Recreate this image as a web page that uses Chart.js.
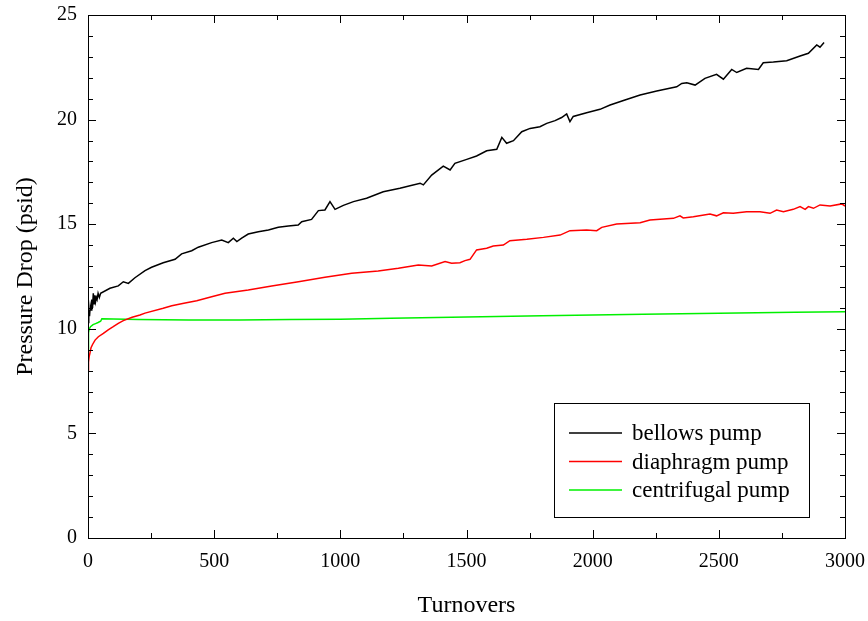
<!DOCTYPE html>
<html>
<head>
<meta charset="utf-8">
<script src="https://cdn.jsdelivr.net/npm/chart.js@4.4.0/dist/chart.umd.min.js"></script>
<style>
  html, body { margin: 0; padding: 0; background: #fff; }
  #wrap { width: 868px; height: 621px; }
</style>
</head>
<body>
<div id="wrap"><canvas id="c" width="868" height="621"></canvas></div>
<script>
// ---- data ----
const seriesLabels = ['bellows pump', 'diaphragm pump', 'centrifugal pump'];
const seriesColors = ['#000000', '#ff0000', '#00f000'];

const bellowsX = [0, 3, 6, 9, 12, 15, 18, 21, 24, 27, 30, 33, 36, 40, 45, 50, 87, 120, 140, 160, 186, 226, 252, 298, 345, 371, 411, 437, 490, 530, 556, 576, 590, 609, 635, 675, 715, 754, 794, 833, 847, 886, 913, 939, 959, 979, 1012, 1052, 1104, 1170, 1236, 1316, 1329, 1362, 1408, 1435, 1454, 1501, 1540, 1580, 1620, 1640, 1659, 1686, 1719, 1752, 1791, 1818, 1851, 1877, 1897, 1910, 1923, 1976, 2029, 2069, 2128, 2188, 2254, 2333, 2353, 2373, 2406, 2445, 2491, 2518, 2551, 2571, 2610, 2657, 2676, 2716, 2769, 2822, 2855, 2888, 2901, 2917];
const bellowsY = [10.3, 10.9, 10.6, 11.1, 10.9, 11.4, 11.0, 11.7, 11.2, 11.6, 11.3, 11.5, 11.4, 11.7, 11.5, 11.7, 11.94, 12.05, 12.25, 12.17, 12.44, 12.78, 12.94, 13.16, 13.32, 13.58, 13.73, 13.9, 14.12, 14.24, 14.12, 14.33, 14.17, 14.33, 14.53, 14.64, 14.72, 14.85, 14.91, 14.96, 15.12, 15.23, 15.65, 15.68, 16.08, 15.71, 15.9, 16.08, 16.24, 16.55, 16.72, 16.96, 16.88, 17.35, 17.78, 17.59, 17.91, 18.1, 18.26, 18.51, 18.58, 19.15, 18.87, 18.99, 19.42, 19.58, 19.66, 19.82, 19.95, 20.1, 20.27, 19.9, 20.15, 20.33, 20.49, 20.7, 20.94, 21.18, 21.37, 21.57, 21.73, 21.76, 21.65, 21.97, 22.16, 21.93, 22.4, 22.25, 22.45, 22.4, 22.72, 22.75, 22.81, 23.04, 23.17, 23.57, 23.46, 23.68];

const diaphragmX = [0, 2, 5, 8, 12, 18, 28, 41, 61, 80, 100, 120, 140, 175, 206, 226, 298, 332, 380, 431, 490, 543, 635, 728, 834, 939, 1045, 1150, 1230, 1309, 1362, 1415, 1441, 1474, 1494, 1514, 1540, 1580, 1606, 1646, 1672, 1739, 1805, 1871, 1910, 1976, 2016, 2036, 2095, 2188, 2227, 2320, 2346, 2359, 2399, 2465, 2491, 2518, 2557, 2610, 2663, 2703, 2729, 2756, 2795, 2822, 2842, 2855, 2875, 2901, 2941, 2987, 3000];
const diaphragmY = [8.0, 8.4, 8.7, 8.85, 9.1, 9.25, 9.46, 9.62, 9.78, 9.95, 10.1, 10.26, 10.39, 10.55, 10.66, 10.75, 10.98, 11.1, 11.22, 11.34, 11.53, 11.7, 11.85, 12.05, 12.25, 12.46, 12.65, 12.76, 12.89, 13.05, 13.0, 13.21, 13.13, 13.16, 13.26, 13.32, 13.77, 13.85, 13.96, 14.0, 14.21, 14.28, 14.37, 14.48, 14.69, 14.72, 14.69, 14.85, 15.01, 15.07, 15.2, 15.28, 15.4, 15.3, 15.36, 15.49, 15.4, 15.55, 15.52, 15.6, 15.6, 15.52, 15.68, 15.6, 15.71, 15.84, 15.71, 15.84, 15.76, 15.92, 15.87, 15.97, 15.87];

const centrifugalX = [0, 2, 5, 10, 20, 30, 40, 50, 55, 100, 200, 400, 600, 800, 1000, 1200, 1500, 1800, 2000, 2200, 2500, 2800, 3000];
const centrifugalY = [8.9, 9.8, 10.0, 10.1, 10.2, 10.25, 10.3, 10.36, 10.48, 10.47, 10.44, 10.42, 10.42, 10.44, 10.46, 10.5, 10.56, 10.62, 10.66, 10.7, 10.74, 10.79, 10.82];

const xMin = 0, xMax = 3000, xMajor = 500, xMinor = 250;
const yMin = 0, yMax = 25, yMajor = 5, yMinor = 1;
const xTitle = 'Turnovers';
const yTitle = 'Pressure Drop (psid)';

const FONT = "'Liberation Serif', 'Times New Roman', serif";

function pts(xs, ys) { return xs.map((x, i) => ({ x: x, y: ys[i] })); }

const frameTicks = {
  id: 'frameTicks',
  afterDatasetsDraw(chart) {
    const ctx = chart.ctx, a = chart.chartArea;
    const xs = chart.scales.x, ys = chart.scales.y;
    ctx.save();
    ctx.strokeStyle = '#000';
    ctx.lineWidth = 1;
    ctx.beginPath();
    for (let v = xMin; v <= xMax; v += xMinor) {
      const px = Math.round(xs.getPixelForValue(v)) + 0.5;
      const L = (v % xMajor === 0) ? 8 : 5;
      ctx.moveTo(px, a.bottom); ctx.lineTo(px, a.bottom - L);
      ctx.moveTo(px, a.top); ctx.lineTo(px, a.top + L);
    }
    for (let v = yMin; v <= yMax; v += yMinor) {
      const py = Math.round(ys.getPixelForValue(v)) + 0.5;
      const L = (v % yMajor === 0) ? 8 : 5;
      ctx.moveTo(a.left, py); ctx.lineTo(a.left + L, py);
      ctx.moveTo(a.right, py); ctx.lineTo(a.right - L, py);
    }
    ctx.stroke();
    ctx.strokeRect(Math.round(a.left) + 0.5, Math.round(a.top) + 0.5, Math.round(a.right - a.left), Math.round(a.bottom - a.top));
    ctx.restore();
  }
};

const boxLegend = {
  id: 'boxLegend',
  afterDraw(chart) {
    const ctx = chart.ctx;
    const bx = 554.5, by = 403.5, bw = 255, bh = 114;
    ctx.save();
    ctx.fillStyle = '#fff';
    ctx.fillRect(bx, by, bw, bh);
    ctx.strokeStyle = '#000';
    ctx.lineWidth = 1;
    ctx.strokeRect(bx, by, bw, bh);
    ctx.font = "23px " + FONT;
    ctx.textBaseline = 'middle';
    ctx.textAlign = 'left';
    chart.data.datasets.forEach((ds, i) => {
      const y = 433 + i * 28.5;
      ctx.strokeStyle = ds.borderColor;
      ctx.lineWidth = 1.5;
      ctx.beginPath();
      ctx.moveTo(569, y); ctx.lineTo(622, y);
      ctx.stroke();
      ctx.fillStyle = '#000';
      ctx.fillText(ds.label, 632, y + 1);
    });
    ctx.restore();
  }
};

new Chart(document.getElementById('c'), {
  type: 'line',
  data: {
    datasets: [
      { label: seriesLabels[0], data: pts(bellowsX, bellowsY), borderColor: seriesColors[0] },
      { label: seriesLabels[1], data: pts(diaphragmX, diaphragmY), borderColor: seriesColors[1] },
      { label: seriesLabels[2], data: pts(centrifugalX, centrifugalY), borderColor: seriesColors[2] }
    ]
  },
  options: {
    responsive: false,
    animation: false,
    devicePixelRatio: 1,
    layout: { padding: { top: 15, right: 23, left: 0, bottom: 0 } },
    elements: {
      point: { radius: 0 },
      line: { borderWidth: 1.5, tension: 0, fill: false }
    },
    plugins: { legend: { display: false }, tooltip: { enabled: false } },
    scales: {
      x: {
        type: 'linear', min: xMin, max: xMax,
        grid: { display: false, drawTicks: false },
        border: { display: false },
        ticks: { stepSize: xMajor, padding: 12, color: '#000', font: { family: FONT, size: 20 }, maxRotation: 0, callback: v => String(v) },
        title: { display: true, text: xTitle, color: '#000', font: { family: FONT, size: 24 }, padding: { top: 0, bottom: 1 } },
        afterFit(s) { s.height = 83; s.paddingLeft = 0; s.paddingRight = 0; }
      },
      y: {
        type: 'linear', min: yMin, max: yMax,
        grid: { display: false, drawTicks: false },
        border: { display: false },
        ticks: { stepSize: yMajor, padding: 11, color: '#000', font: { family: FONT, size: 20 }, callback: v => String(v) },
        title: { display: true, text: yTitle, color: '#000', font: { family: FONT, size: 24 }, padding: { top: 11, bottom: 0 } },
        afterFit(s) { s.width = 88; s.paddingTop = 0; s.paddingBottom = 0; }
      }
    }
  },
  plugins: [frameTicks, boxLegend]
});
</script>
</body>
</html>
